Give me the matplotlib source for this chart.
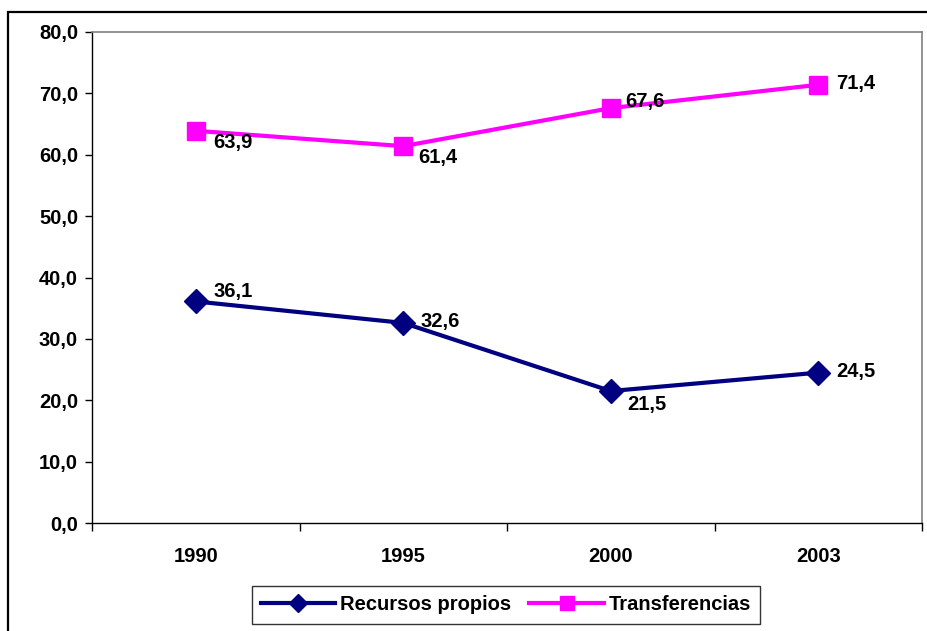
import matplotlib.pyplot as plt
from matplotlib.patches import Rectangle
from matplotlib.ticker import FixedLocator

# ── Data ──────────────────────────────────────────────────────────────────────
years = ['1990', '1995', '2000', '2003']
recursos_propios = [36.1, 32.6, 21.5, 24.5]
transferencias = [63.9, 61.4, 67.6, 71.4]

# label offsets in pixels (dx, dy) relative to each marker
offsets_rp = [(18, 10), (17, 1), (17, -13), (18, 1)]
offsets_tr = [(17, -12), (15, -11), (14, 7), (18, 1)]

plt.rcParams['font.family'] = ['Liberation Sans', 'DejaVu Sans']
plt.rcParams['font.weight'] = 'bold'
FS = 14.5

fig = plt.figure(figsize=(9.27, 6.31), dpi=100)
W, H = 927, 631

# outer chart border (runs off the right and bottom edges)
fig.patches.append(Rectangle((8 / W, -0.05), 1.0, 1 - 12 / H + 0.05,
                             transform=fig.transFigure, fill=False,
                             edgecolor='black', linewidth=1.6))

ax = fig.add_axes([92 / W, 1 - 523 / H, 830 / W, 491 / H])
x = range(len(years))

ax.plot(x, recursos_propios, color='#000080', linewidth=3, marker='D',
        markersize=12, label='Recursos propios')
ax.plot(x, transferencias, color='#FF00FF', linewidth=3, marker='s',
        markersize=13, label='Transferencias')

for xi, v, (dx, dy) in zip(x, recursos_propios, offsets_rp):
    ax.annotate(f'{v:.1f}'.replace('.', ','), (xi, v), xytext=(dx, dy),
                textcoords='offset pixels', ha='left', va='center',
                fontsize=FS, fontweight='bold')
for xi, v, (dx, dy) in zip(x, transferencias, offsets_tr):
    ax.annotate(f'{v:.1f}'.replace('.', ','), (xi, v), xytext=(dx, dy),
                textcoords='offset pixels', ha='left', va='center',
                fontsize=FS, fontweight='bold')

ax.set_xlim(-0.5, 3.5)
ax.set_ylim(0, 80)
ax.set_yticks(range(0, 81, 10))
ax.set_yticklabels([f'{v:.1f}'.replace('.', ',') for v in range(0, 81, 10)],
                   fontsize=FS, fontweight='bold')
ax.set_xticks(list(x))
ax.set_xticklabels(years, fontsize=FS, fontweight='bold')
ax.tick_params(axis='x', length=0, pad=17)
ax.xaxis.set_minor_locator(FixedLocator([-0.5, 0.5, 1.5, 2.5, 3.5]))
ax.tick_params(axis='x', which='minor', direction='out', length=6, width=1)
ax.tick_params(axis='y', direction='out', length=5, width=1, pad=5)

for side in ['top', 'right']:
    ax.spines[side].set_color('#808080')
    ax.spines[side].set_linewidth(1.2)
for side in ['left', 'bottom']:
    ax.spines[side].set_color('black')
    ax.spines[side].set_linewidth(1)

leg = ax.legend(loc='center', bbox_to_anchor=(506 / W, 1 - 605 / H),
                bbox_transform=fig.transFigure, ncol=2, frameon=True,
                fancybox=False, edgecolor='black', fontsize=FS,
                handlelength=3.7, handletextpad=0.25, columnspacing=0.9,
                borderpad=0.45, markerscale=0.75)
leg.get_frame().set_linewidth(1)

fig.savefig('out.png', dpi=100)
